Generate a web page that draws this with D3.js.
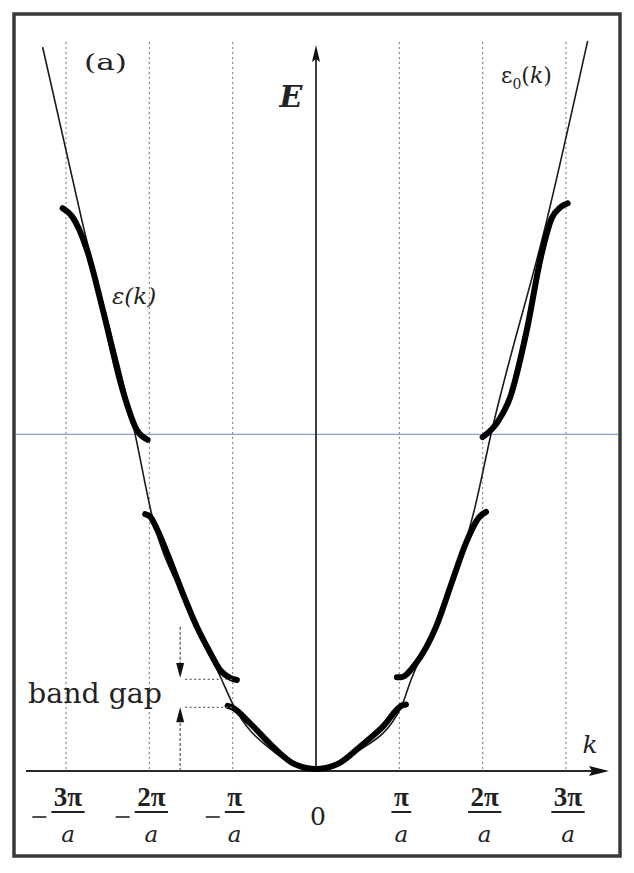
<!DOCTYPE html>
<html>
<head>
<meta charset="utf-8">
<script src="https://cdn.jsdelivr.net/npm/d3@7"></script>
<style>
  body { margin: 0; background: #fff; }
  svg { display: block; }
</style>
</head>
<body>
<svg id="chart"></svg>
<script>
// k in units of pi/a, E in units of (hbar^2/2m)(pi/a)^2
const freeK = [-3.28, -2.81, -2.17, -1.97, -1.55, -1.13, -1.0, -0.5, 0, 0.49, 1.02, 1.14, 1.55, 1.9, 2.1, 2.77, 3.26]
const freeE = [10.34, 7.87, 4.81, 3.66, 2.38, 1.30, 0.96, 0.27, 0, 0.27, 0.91, 1.30, 2.40, 3.73, 4.81, 7.87, 10.43]

const band1K = [-1.06, -1.01, -0.79, -0.52, -0.26, 0, 0.26, 0.52, 0.80, 1.04, 1.08]
const band1E = [0.93, 0.91, 0.68, 0.35, 0.10, 0.03, 0.10, 0.34, 0.63, 0.94, 0.95]

const band2LK = [-2.05, -1.98, -1.93, -1.72, -1.60, -1.43, -1.27, -1.15, -1.03, -0.95]
const band2LE = [3.67, 3.62, 3.51, 2.91, 2.54, 2.06, 1.69, 1.44, 1.33, 1.30]
const band2RK = [0.97, 1.02, 1.20, 1.44, 1.64, 1.80, 1.96, 2.04]
const band2RE = [1.34, 1.34, 1.54, 2.06, 2.73, 3.26, 3.63, 3.70]

const band3LK = [-3.04, -2.92, -2.75, -2.55, -2.32, -2.15, -2.02]
const band3LE = [8.04, 7.91, 7.45, 6.55, 5.44, 4.87, 4.73]
const band3RK = [2.0, 2.17, 2.33, 2.53, 2.70, 2.83, 2.93, 3.02]
const band3RE = [4.77, 4.97, 5.34, 6.30, 7.35, 7.90, 8.05, 8.11]

const refLineE = 4.81
const gapE = [0.91, 1.31]
const gapK = [-1.57, -1.0]
const arrowK = -1.63
const arrowDownE = [2.06, 1.33]
const arrowUpE = [0, 0.91]

const tickK = [-3, -2, -1, 0, 1, 2, 3]
const tickNum = ['3π', '2π', 'π', '0', 'π', '2π', '3π']
const tickDen = ['a', 'a', 'a', '', 'a', 'a', 'a']

const width = 634
const height = 873
const serif = '"DejaVu Serif", "Liberation Serif", serif'
const times = '"Liberation Serif", "DejaVu Serif", serif'

const svg = d3.select('#chart')
  .attr('width', width)
  .attr('height', height)

const xScale = d3.scaleLinear().domain([-3, 3]).range([66, 566])
const yScale = d3.scaleLinear().domain([0, 10]).range([771, 71])

// frame
svg.append('rect')
  .attr('x', 14).attr('y', 14)
  .attr('width', 606).attr('height', 842)
  .style('fill', '#fff')
  .style('stroke', '#3a3a3a')
  .style('stroke-width', 3.5)

// dotted zone boundaries
svg.append('g')
  .selectAll('line')
  .data(tickK.filter((k) => k !== 0))
  .enter()
  .append('line')
  .attr('x1', (d) => xScale(d))
  .attr('x2', (d) => xScale(d))
  .attr('y1', 42)
  .attr('y2', yScale(0))
  .style('stroke', '#8a8a8a')
  .style('stroke-width', 1.2)
  .style('stroke-dasharray', '2,3')

// blue horizontal line
svg.append('line')
  .attr('x1', 16).attr('x2', 618)
  .attr('y1', yScale(refLineE)).attr('y2', yScale(refLineE))
  .style('stroke', '#86a2cc')
  .style('stroke-width', 1.3)

// axes
svg.append('line')
  .attr('x1', 26).attr('x2', 596)
  .attr('y1', yScale(0)).attr('y2', yScale(0))
  .style('stroke', '#2a2a2a')
  .style('stroke-width', 2)
svg.append('path')
  .attr('d', `M609,${yScale(0)} L589,${yScale(0) - 5} L592,${yScale(0)} L589,${yScale(0) + 5} Z`)
  .style('fill', '#111')

svg.append('line')
  .attr('x1', xScale(0)).attr('x2', xScale(0))
  .attr('y1', yScale(0)).attr('y2', 58)
  .style('stroke', '#2a2a2a')
  .style('stroke-width', 1.8)
svg.append('path')
  .attr('d', `M${xScale(0)},45 L${xScale(0) - 4},62 L${xScale(0)},59 L${xScale(0) + 4},62 Z`)
  .style('fill', '#111')

// free electron parabola
const line = d3.line()
  .x((d) => xScale(d[0]))
  .y((d) => yScale(d[1]))
  .curve(d3.curveMonotoneX)

svg.append('path')
  .datum(d3.zip(freeK, freeE))
  .attr('d', line)
  .style('fill', 'none')
  .style('stroke', '#1a1a1a')
  .style('stroke-width', 1.6)

// bands
const bands = [
  [band1K, band1E],
  [band2LK, band2LE], [band2RK, band2RE],
  [band3LK, band3LE], [band3RK, band3RE]
]
svg.append('g')
  .selectAll('path')
  .data(bands.map((b) => d3.zip(b[0], b[1])))
  .enter()
  .append('path')
  .attr('d', line)
  .style('fill', 'none')
  .style('stroke', '#000')
  .style('stroke-width', 6)
  .style('stroke-linecap', 'round')
  .style('stroke-linejoin', 'round')

// band gap marks
svg.append('g')
  .selectAll('line')
  .data(gapE)
  .enter()
  .append('line')
  .attr('x1', xScale(gapK[0])).attr('x2', xScale(gapK[1]))
  .attr('y1', (d) => yScale(d)).attr('y2', (d) => yScale(d))
  .style('stroke', '#666')
  .style('stroke-width', 1.3)
  .style('stroke-dasharray', '2,2.5')

const ax = xScale(arrowK)
svg.append('line')
  .attr('x1', ax).attr('x2', ax)
  .attr('y1', yScale(arrowDownE[0])).attr('y2', yScale(arrowDownE[1]) - 12)
  .style('stroke', '#555').style('stroke-width', 1.2).style('stroke-dasharray', '3,2')
svg.append('path')
  .attr('d', `M${ax},${yScale(arrowDownE[1])} L${ax - 4},${yScale(arrowDownE[1]) - 15} L${ax + 4},${yScale(arrowDownE[1]) - 15} Z`)
  .style('fill', '#111')
svg.append('line')
  .attr('x1', ax).attr('x2', ax)
  .attr('y1', yScale(arrowUpE[0])).attr('y2', yScale(arrowUpE[1]) + 12)
  .style('stroke', '#555').style('stroke-width', 1.2).style('stroke-dasharray', '3,2')
svg.append('path')
  .attr('d', `M${ax},${yScale(arrowUpE[1])} L${ax - 4},${yScale(arrowUpE[1]) + 15} L${ax + 4},${yScale(arrowUpE[1]) + 15} Z`)
  .style('fill', '#111')

svg.append('text')
  .attr('x', 28).attr('y', 703)
  .attr('textLength', 134)
  .attr('lengthAdjust', 'spacingAndGlyphs')
  .style('font-family', serif)
  .style('font-size', '27px')
  .style('fill', '#222')
  .text('band gap')

// tick labels (fractions)
const ticks = svg.append('g')
tickK.forEach((k, i) => {
  const cx = xScale(k) + 2
  if (k === 0) {
    ticks.append('text')
      .attr('x', cx).attr('y', 825)
      .attr('text-anchor', 'middle')
      .style('font-family', serif)
      .style('font-size', '25px')
      .style('fill', '#222')
      .text(tickNum[i])
    return
  }
  const num = ticks.append('text')
    .attr('x', cx).attr('y', 806)
    .attr('text-anchor', 'middle')
    .style('font-family', times)
    .style('font-size', '27px')
    .style('font-weight', 'bold')
    .style('fill', '#222')
    .text(tickNum[i])
  const w = num.node().getComputedTextLength() + 5
  ticks.append('line')
    .attr('x1', cx - w / 2).attr('x2', cx + w / 2)
    .attr('y1', 812).attr('y2', 812)
    .style('stroke', '#222')
    .style('stroke-width', 2)
  ticks.append('text')
    .attr('x', cx).attr('y', 842)
    .attr('text-anchor', 'middle')
    .style('font-family', serif)
    .style('font-size', '23px')
    .style('font-style', 'italic')
    .style('fill', '#222')
    .text(tickDen[i])
  if (k < 0) {
    ticks.append('line')
      .attr('x1', cx - w / 2 - 19).attr('x2', cx - w / 2 - 5)
      .attr('y1', 817).attr('y2', 817)
      .style('stroke', '#222')
      .style('stroke-width', 1.6)
  }
})

// labels
svg.append('text')
  .attr('x', 291).attr('y', 107)
  .attr('text-anchor', 'middle')
  .style('font-family', serif)
  .style('font-size', '30px')
  .style('font-style', 'italic')
  .style('font-weight', 'bold')
  .style('fill', '#222')
  .text('E')

svg.append('text')
  .attr('x', 590).attr('y', 753)
  .attr('text-anchor', 'middle')
  .style('font-family', serif)
  .style('font-size', '25px')
  .style('font-style', 'italic')
  .style('fill', '#222')
  .text('k')

svg.append('text')
  .attr('x', 84).attr('y', 70)
  .attr('textLength', 43)
  .attr('lengthAdjust', 'spacingAndGlyphs')
  .style('font-family', serif)
  .style('font-size', '23px')
  .style('fill', '#222')
  .text('(a)')

const eps0 = svg.append('text')
  .attr('x', 501).attr('y', 83)
  .style('font-family', serif)
  .style('font-size', '22px')
  .style('fill', '#222')
eps0.append('tspan').text('ε')
eps0.append('tspan').attr('dy', 6).style('font-size', '14px').text('0')
eps0.append('tspan').attr('dy', -6).text('(')
eps0.append('tspan').style('font-style', 'italic').text('k')
eps0.append('tspan').text(')')

const eps = svg.append('text')
  .attr('x', 112).attr('y', 304)
  .style('font-family', serif)
  .style('font-size', '23px')
  .style('font-style', 'italic')
  .style('fill', '#222')
eps.append('tspan').text('ε(')
eps.append('tspan').text('k')
eps.append('tspan').text(')')
</script>
</body>
</html>
